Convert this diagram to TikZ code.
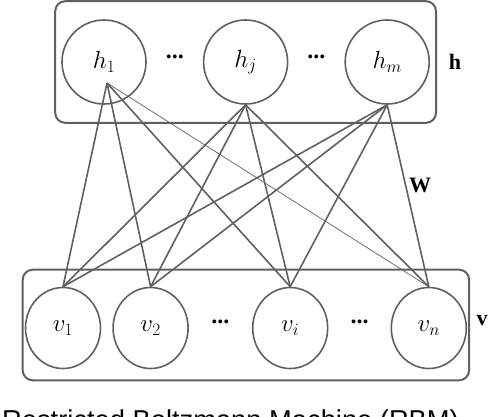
\documentclass[tikz,border=0pt]{standalone}
\usepackage{fontspec}
\usepackage{amsmath}
\setmainfont{Liberation Serif}
\newfontfamily\capfont{Liberation Sans}
\usetikzlibrary{shapes.geometric, positioning, fit, backgrounds, calc}
\definecolor{mygray}{RGB}{96, 96, 96}

\begin{document}
\begin{tikzpicture}[
    x=1pt, y=-1pt,
    hidden/.style={circle, draw=mygray, line width=1.6pt, minimum size=84pt, inner sep=0pt, font=\fontsize{24}{28}\selectfont},
    visible/.style={ellipse, draw=mygray, line width=1.6pt, minimum width=75pt, minimum height=81pt, inner sep=0pt, font=\fontsize{24}{28}\selectfont},
    ellip/.style={inner sep=0pt, font=\bfseries\fontsize{24}{28}\selectfont},
    layerbox/.style={rectangle, rounded corners=10pt, draw=mygray, line width=2pt},
    edge/.style={draw=mygray, line width=1.6pt},
    thinedge/.style={draw=mygray, line width=0.7pt},
    tag/.style={font=\bfseries\fontsize{22}{26}\selectfont}
]
\useasboundingbox (0,0) rectangle (488,416);

% Hidden layer
\node[hidden] (h1) at (104,62) {$h_1$};
\node[hidden, right=56pt of h1] (hj) {$h_j$};
\node[hidden, right=56pt of hj] (hm) {$h_m$};
\node[ellip] (hdots1) at ($(h1)!0.5!(hj)+(0,-5)$) {...};
\node[ellip] (hdots2) at ($(hj)!0.5!(hm)+(0,-5)$) {...};

% Visible layer
\node[visible] (v1) at (63,328) {$v_1$};
\node[visible, right=11pt of v1] (v2) {$v_2$};
\node[visible, right=63pt of v2] (vi) {$v_i$};
\node[visible, right=62pt of vi] (vn) {$v_n$};
\node[ellip] (vdots1) at ($(v2)!0.5!(vi)+(0,-6)$) {...};
\node[ellip] (vdots2) at ($(vi)!0.5!(vn)+(0,-6)$) {...};

% Layer boxes
\node[layerbox, inner xsep=6pt, inner ysep=18pt, fit=(h1) (hm)] (hbox) {};
\node[layerbox, inner xsep=2pt, inner ysep=14pt, yshift=3pt, fit=(v1) (vn)] (vbox) {};

% Weights
\coordinate (h1s) at ($(h1.center)+(3,21)$);
\foreach \t in {v1,v2,vi}
    \draw[edge] (h1s) -- (\t.north);
\draw[thinedge] (h1s) -- (vn.north);
\foreach \s in {hj,hm}
    \foreach \t in {v1,v2,vi,vn}
        \draw[edge] (\s.south) -- (\t.north);

% Labels
\node[tag] (hlab) at (455,62) {h};
\node[tag] (wlab) at (420,185) {W};
\node[tag] (vlab) at (482,321) {v};
\node[anchor=base west, inner sep=0pt, font=\capfont\fontsize{27.3}{32}\selectfont] (caption) at (2,429) {Restricted Boltzmann Machine (RBM)};

\end{tikzpicture}
\end{document}
